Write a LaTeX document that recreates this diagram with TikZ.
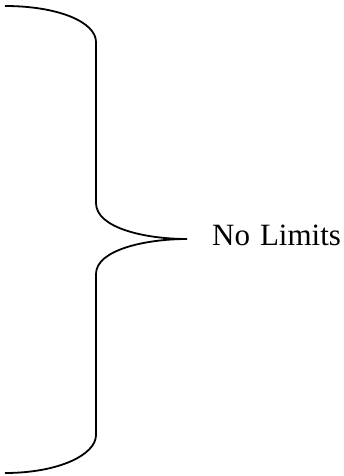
\documentclass[tikz,border=0pt]{standalone}
\usepackage{fontspec}
\setmainfont{Liberation Serif}
\begin{document}
\begin{tikzpicture}[x=1pt,y=-1pt]

    \useasboundingbox (0,0) rectangle (343,476);

    \coordinate (tip) at (187,239);

    \draw[line width=1.8pt]
    (5,6)
    .. controls (58,6) and (96,22) .. (96,42)
    -- (96,203)
    .. controls (96,228) and (145,239) .. (tip)
    .. controls (145,239) and (96,250) .. (96,274)
    -- (96,435)
    .. controls (96,455) and (58,473) .. (5,473);

    \node[anchor=base west, inner sep=0pt, font=\fontsize{31}{37}\selectfont] (label) at (212,245) {No\hspace{0.32em}Limits};

\end{tikzpicture}
\end{document}
